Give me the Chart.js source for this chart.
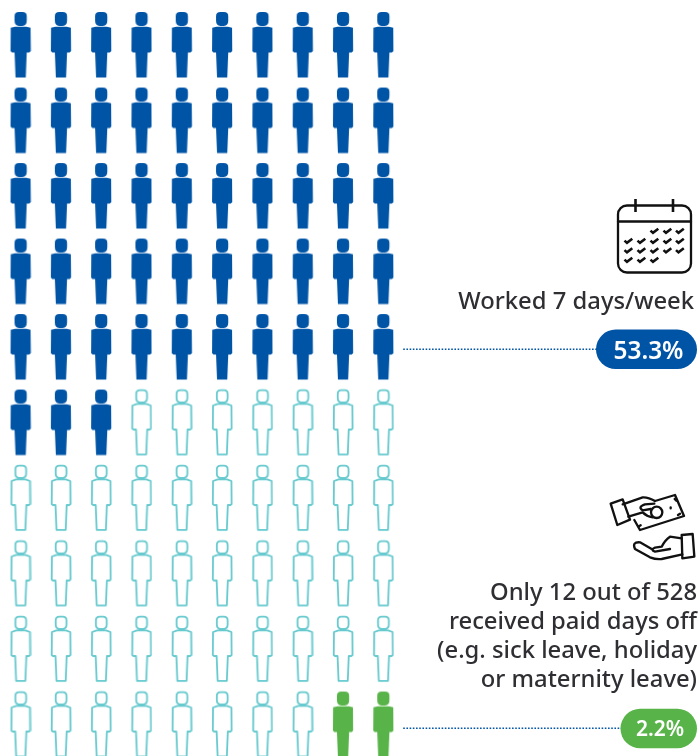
<!DOCTYPE html>
<html><head><meta charset="utf-8">
<style>html,body{margin:0;padding:0;background:#fff}canvas{display:block}</style>
<script src="https://cdn.jsdelivr.net/npm/chart.js@4"></script>
</head><body><canvas id="c" width="700" height="756"></canvas>
<script>
const columns=[1,2,3,4,5,6,7,8,9,10];
const rows=[1,2,3,4,5,6,7,8,9,10];
const bluePerRow=[10,10,10,10,10,3,0,0,0,0];
const greenPerRow=[0,0,0,0,0,0,0,0,0,2];
const seriesNames=['Worked 7 days/week','Other workers','Received paid days off'];
const percentValues=['53.3%','2.2%'];
const noteWorked=['Worked 7 days/week'];
const notePaid=['Only 12 out of 528','received paid days off','(e.g. sick leave, holiday','or maternity leave)'];

const BLUE='#0054a6',GREEN='#58b449',TEAL='#66c9ce',TEXT='#2e2e33';

function personPath(c){
  c.beginPath();
  c.moveTo(9.4,2);c.lineTo(12.8,2);c.quadraticCurveTo(17.2,2,17.2,6.2);c.lineTo(17.2,10.5);c.quadraticCurveTo(17.2,15.8,12.8,16);
  c.lineTo(9.4,16);c.quadraticCurveTo(5,15.8,5,10.5);c.lineTo(5,6.2);c.quadraticCurveTo(5,2,9.4,2);c.closePath();
  c.moveTo(5.5,16.7);c.lineTo(16.9,16.7);c.lineTo(21,17.8);c.lineTo(21.2,41);c.lineTo(19.8,42.4);c.lineTo(17.2,42.4);
  c.lineTo(16.2,67.6);c.lineTo(6,67.6);c.lineTo(5,42.4);c.lineTo(2.4,42.4);c.lineTo(1,41);c.lineTo(1.2,17.8);c.closePath();
}
function outlinePath(c){
  c.beginPath();
  c.moveTo(9.4,2.7);c.lineTo(13,2.7);c.quadraticCurveTo(16.6,2.7,16.6,6.4);c.lineTo(16.6,10.6);c.quadraticCurveTo(16.6,14.7,12.8,14.9);
  c.lineTo(9.6,14.9);c.quadraticCurveTo(5.8,14.7,5.8,10.6);c.lineTo(5.8,6.4);c.quadraticCurveTo(5.8,2.7,9.4,2.7);c.closePath();
  c.moveTo(6.5,16.4);c.lineTo(16,16.4);c.lineTo(20.4,18);c.lineTo(20.6,41);c.lineTo(19.3,42);c.lineTo(16.8,42);
  c.lineTo(15.8,66.8);c.lineTo(6.6,66.8);c.lineTo(5.6,42);c.lineTo(3.1,42);c.lineTo(1.8,41);c.lineTo(2,18);c.closePath();
}
function personIcon(color,outline){
  const o=document.createElement('canvas');o.width=22;o.height=70;
  const c=o.getContext('2d');
  if(outline){outlinePath(c);c.strokeStyle=color;c.lineWidth=1.8;c.lineJoin='round';c.stroke();}
  else{personPath(c);c.fillStyle=color;c.fill();}
  return o;
}
const blueIcon=personIcon(BLUE,false),greenIcon=personIcon(GREEN,false),tealIcon=personIcon(TEAL,true);

const bluePts=[],greenPts=[],tealPts=[];
rows.forEach((r,i)=>columns.forEach((col,j)=>{
  const p={x:col,y:r};
  if(j<bluePerRow[i])bluePts.push(p);
  else if(j>=columns.length-greenPerRow[i])greenPts.push(p);
  else tealPts.push(p);
}));

function calendar(c){
  c.save();c.strokeStyle='#111';c.lineWidth=2.3;c.lineJoin='round';c.lineCap='round';
  c.beginPath();c.roundRect(618,205.5,73,67,9);c.stroke();
  c.beginPath();c.moveTo(618,221.5);c.lineTo(691,221.5);c.stroke();
  c.lineWidth=2.6;c.lineCap='butt';
  c.beginPath();c.moveTo(635.5,199);c.lineTo(635.5,212);c.moveTo(673,199);c.lineTo(673,212);c.stroke();
  c.lineWidth=2.6;c.lineCap='butt';c.lineJoin='miter';
  const xs=[628.5,641.5,654.5,667.5,680],ys=[231,241,250.5,260];
  const use=[[2,3,4],[0,1,2,3,4],[0,1,2,3,4],[0,1,2]];
  use.forEach((u,ri)=>u.forEach(ci=>{
    const x=xs[ci],y=ys[ri];
    c.beginPath();c.moveTo(x-4,y-.4);c.lineTo(x-1.5,y+1.9);c.lineTo(x+3.8,y-2.2);c.stroke();
  }));
  c.restore();
}
function money(c){
  c.save();c.translate(600,485);c.scale(1/3,1/3);
  c.strokeStyle='#111';c.lineWidth=7;c.lineJoin='round';c.lineCap='round';
  const s=(pts,close)=>{c.beginPath();pts.forEach((p,i)=>i?c.lineTo(p[0],p[1]):c.moveTo(p[0],p[1]));if(close)c.closePath();c.stroke();};
  s([[32,56],[68,43],[90,104],[52,120]],true);
  c.beginPath();c.moveTo(68,58);c.lineTo(128,37);c.quadraticCurveTo(145,36,165,48);c.stroke();
  s([[165,48],[225,30],[252,93],[120,135],[103,105]]);
  c.beginPath();c.moveTo(163,56);c.lineTo(135,58);c.quadraticCurveTo(112,66,128,76);c.lineTo(152,72);c.stroke();
  c.beginPath();c.moveTo(85,95);c.lineTo(128,82);c.quadraticCurveTo(140,94,158,97);c.stroke();
  c.beginPath();c.arc(170,82,17,0,Math.PI*2);c.stroke();
  c.beginPath();c.moveTo(212,67);c.lineTo(212,70);c.moveTo(224,42);c.lineTo(229,47);c.moveTo(240,86);c.lineTo(234,90);c.moveTo(117,124);c.lineTo(122,121);c.stroke();
  s([[245,150],[278,147],[283,215],[247,220]],true);
  c.beginPath();c.moveTo(245,160);c.lineTo(210,155);c.quadraticCurveTo(195,165,185,185);c.lineTo(165,188);c.quadraticCurveTo(150,194,165,200);c.lineTo(210,192);c.stroke();
  c.beginPath();c.moveTo(155,192);c.lineTo(120,172);c.quadraticCurveTo(95,170,105,192);c.lineTo(150,217);c.quadraticCurveTo(168,224,185,222);c.lineTo(247,208);c.stroke();
  c.restore();
}
function pill(c,x0,x1,cy,color,label,size,tx,baseline){
  c.save();c.fillStyle=color;c.beginPath();c.roundRect(x0,cy-20,x1-x0,39.5,19.7);c.fill();
  c.fillStyle='#fff';c.font="600 "+size+"px 'Noto Sans'";c.textAlign='center';c.textBaseline='alphabetic';
  c.fillText(label,tx,baseline);c.restore();
}
const decorations={id:'decorations',afterDatasetsDraw(ch){
  const c=ch.ctx,xs=ch.scales.x,ys=ch.scales.y;
  const y1=ys.getPixelForValue(5)+2.3,y2=ys.getPixelForValue(10)+3.8;
  const x0=xs.getPixelForValue(10)+20;
  c.save();c.strokeStyle=BLUE;c.lineWidth=1.6;c.setLineDash([1.6,1.6]);
  c.beginPath();c.moveTo(x0,y1);c.lineTo(597,y1);c.moveTo(x0,y2);c.lineTo(622,y2);c.stroke();c.restore();
  pill(c,596,697,y1+.3,BLUE,percentValues[0],24.4,648.5,359);
  pill(c,620.5,697,y2+.5,GREEN,percentValues[1],21,660,736);
  c.save();c.fillStyle=TEXT;c.font="500 23.8px 'Noto Sans'";c.textAlign='right';c.textBaseline='alphabetic';
  noteWorked.forEach(t=>c.fillText(t,694,309));
  const base=[600,629,658.3,687];
  notePaid.forEach((t,i)=>c.fillText(t,697,base[i]));
  c.restore();
  calendar(c);money(c);
}};
new Chart(document.getElementById('c'),{
  type:'scatter',
  data:{datasets:[
    {label:seriesNames[0],data:bluePts,pointStyle:blueIcon},
    {label:seriesNames[1],data:tealPts,pointStyle:tealIcon},
    {label:seriesNames[2],data:greenPts,pointStyle:greenIcon}
  ]},
  options:{
    responsive:false,animation:false,events:[],
    layout:{padding:0,autoPadding:false},
    plugins:{legend:{display:false},tooltip:{enabled:false}},
    scales:{
      x:{type:'linear',display:false,min:0.491,max:17.86},
      y:{type:'linear',display:false,reverse:true,min:0.404,max:10.417}
    }
  },
  plugins:[decorations]
});
</script></body></html>
